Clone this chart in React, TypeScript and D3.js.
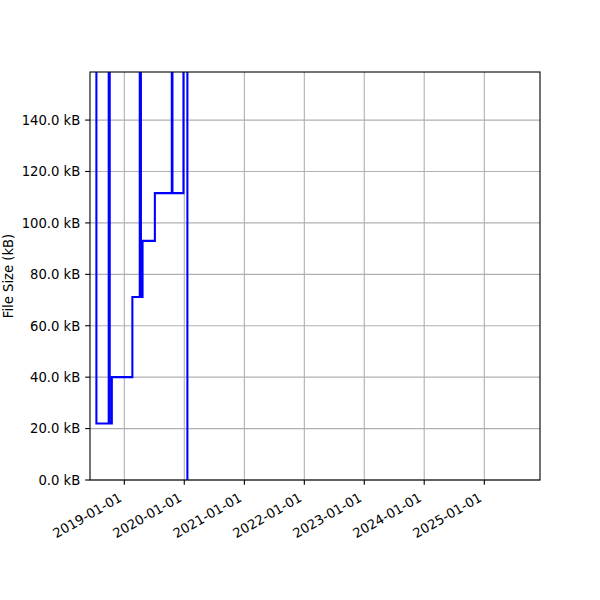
import React from "react";
import * as d3 from "d3";

// Data: file size change points (step-after), values in kB
const changeDates = [
  "2018-07-15", "2018-07-15", "2018-09-28", "2018-10-04", "2018-10-17",
  "2019-02-19", "2019-04-05", "2019-04-12", "2019-04-22", "2019-07-06",
  "2019-10-17", "2019-10-21", "2019-12-27", "2020-01-20",
];
const fileSizes = [600, 22.0, 600, 22.0, 40.0, 71.2, 600, 71.2, 93.0, 111.6, 600, 111.6, 600, 0];

const xDomain = ["2018-06-06", "2025-12-06"];
const yDomain = [0, 158.7];
const xTickDates = ["2019-01-01", "2020-01-01", "2021-01-01", "2022-01-01", "2023-01-01", "2024-01-01", "2025-01-01"];
const yTickValues = [0, 20, 40, 60, 80, 100, 120, 140];
const yLabel = "File Size (kB)";

const W = 600, H = 600;
const L = 90, R = 540, T = 72, B = 480;
const FONT = "'DejaVu Sans', sans-serif";
const FS = 13.2;

export default function App() {
  const x = d3.scaleUtc().domain(xDomain.map((d) => new Date(d + "T00:00:00Z"))).range([L, R]);
  const y = d3.scaleLinear().domain(yDomain).range([B, T]);
  const pts = changeDates.map((d, i) => ({ t: new Date(d + "T00:00:00Z"), v: fileSizes[i] }));
  const line = d3
    .line<{ t: Date; v: number }>()
    .x((p) => x(p.t))
    .y((p) => y(p.v))
    .curve(d3.curveStepAfter);
  const tickLen = 4.86;
  return (
    <svg width={W} height={H} style={{ display: "block", position: "absolute", left: 0, top: 0 }} fontFamily={FONT}>
      <rect width={W} height={H} fill="#fff" />
      <defs>
        <clipPath id="plotclip">
          <rect x={L} y={T} width={R - L} height={B - T} />
        </clipPath>
      </defs>
      {/* grid */}
      {xTickDates.map((d) => {
        const xx = x(new Date(d + "T00:00:00Z"));
        return <line key={"gx" + d} x1={xx} x2={xx} y1={T} y2={B} stroke="#b0b0b0" strokeWidth={1.1} />;
      })}
      {yTickValues.map((v) => (
        <line key={"gy" + v} x1={L} x2={R} y1={y(v)} y2={y(v)} stroke="#b0b0b0" strokeWidth={1.1} />
      ))}
      {/* data line */}
      <path d={line(pts) || ""} fill="none" stroke="blue" strokeWidth={2.08} clipPath="url(#plotclip)" strokeLinejoin="miter" />
      {/* spines */}
      <rect x={L} y={T} width={R - L} height={B - T} fill="none" stroke="#000" strokeWidth={1.1} />
      {/* x ticks */}
      {xTickDates.map((d) => {
        const xx = x(new Date(d + "T00:00:00Z"));
        return (
          <g key={"xt" + d}>
            <line x1={xx} x2={xx} y1={B} y2={B + tickLen} stroke="#000" strokeWidth={1.1} />
            <text
              transform={`translate(${xx - 1.6},${500.2}) rotate(-30)`}
              textAnchor="end"
              fontSize={FS}
              fill="#000"
            >
              {d}
            </text>
          </g>
        );
      })}
      {/* y ticks */}
      {yTickValues.map((v) => (
        <g key={"yt" + v}>
          <line x1={L - tickLen} x2={L} y1={y(v)} y2={y(v)} stroke="#000" strokeWidth={1.1} />
          <text x={L - 2 * tickLen} y={y(v) + 4.8} textAnchor="end" fontSize={FS} fill="#000">
            {v.toFixed(1) + " kB"}
          </text>
        </g>
      ))}
      <text transform={`translate(13,${(T + B) / 2}) rotate(-90)`} textAnchor="middle" fontSize={FS} fill="#000">
        {yLabel}
      </text>
    </svg>
  );
}
